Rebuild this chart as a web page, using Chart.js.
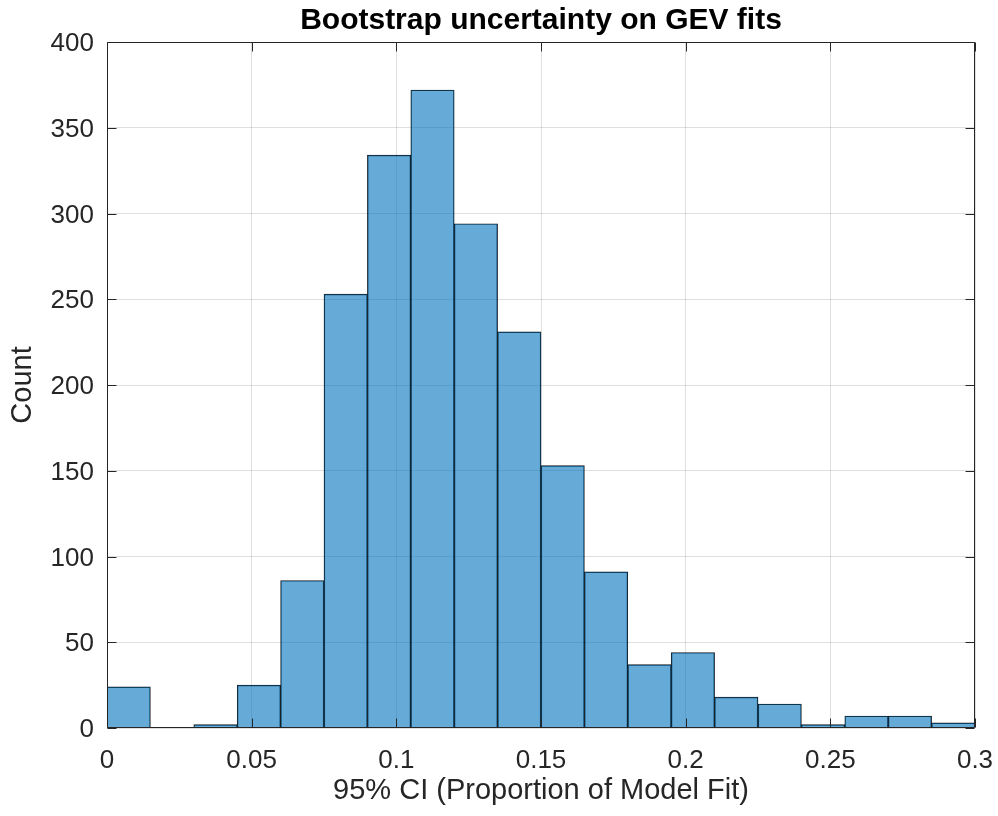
<!DOCTYPE html>
<html>
<head>
<meta charset="utf-8">
<script src="https://cdn.jsdelivr.net/npm/chart.js@4.4.1/dist/chart.umd.min.js"></script>
<style>
  html, body { margin: 0; padding: 0; background: #fff; }
  #wrap { width: 998px; height: 816px; }
</style>
</head>
<body>
<div id="wrap"><canvas id="chartHist"></canvas></div>
<script>
// histogram bins (centres, width 0.015) and counts
const binCenters = [0.0075, 0.0225, 0.0375, 0.0525, 0.0675, 0.0825, 0.0975, 0.1125, 0.1275, 0.1425,
                    0.1575, 0.1725, 0.1875, 0.2025, 0.2175, 0.2325, 0.2475, 0.2625, 0.2775, 0.2925];
const counts = [24, 0, 2, 25, 86, 253, 334, 372, 294, 231, 153, 91, 37, 44, 18, 14, 2, 7, 7, 3];

const xTicks = [0, 0.05, 0.1, 0.15, 0.2, 0.25, 0.3];
const xTickLabels = ['0', '0.05', '0.1', '0.15', '0.2', '0.25', '0.3'];
const yTicks = [0, 50, 100, 150, 200, 250, 300, 350, 400];
const yTickLabels = ['0', '50', '100', '150', '200', '250', '300', '350', '400'];
const tituloTexto = 'Bootstrap uncertainty on GEV fits';

const axisColor = '#262626';
const fontFamily = '"Liberation Sans", Arial, Helvetica, sans-serif';
Chart.defaults.font.family = fontFamily;
Chart.defaults.color = axisColor;

// matlab style box with inward ticks on all four sides, title centred over the axes
const marcoEjes = {
    id: 'marcoEjes',
    afterDatasetsDraw(chart) {
        const { ctx, chartArea: a, scales } = chart;
        const l = Math.round(a.left) + 0.5, r = Math.round(a.right) - 0.5;
        const t = Math.round(a.top) + 0.5, b = Math.round(a.bottom) - 0.5;
        const len = 9;
        ctx.save();
        ctx.strokeStyle = axisColor;
        ctx.lineWidth = 1;
        ctx.beginPath();
        ctx.rect(l, t, r - l, b - t);
        xTicks.forEach(v => {
            const px = Math.round(scales.x.getPixelForValue(v)) + 0.5;
            ctx.moveTo(px, b); ctx.lineTo(px, b - len);
            ctx.moveTo(px, t); ctx.lineTo(px, t + len);
        });
        yTicks.forEach(v => {
            const py = Math.round(scales.y.getPixelForValue(v)) + 0.5;
            ctx.moveTo(l, py); ctx.lineTo(l + len, py);
            ctx.moveTo(r, py); ctx.lineTo(r - len, py);
        });
        ctx.stroke();

        ctx.fillStyle = '#000';
        ctx.font = 'bold 30px ' + fontFamily;
        ctx.textAlign = 'center';
        ctx.textBaseline = 'alphabetic';
        ctx.fillText(tituloTexto, (a.left + a.right) / 2, a.top - 13);
        ctx.restore();
    }
};

new Chart(document.getElementById('chartHist'), {
    type: 'bar',
    data: {
        datasets: [{
            label: 'Count',
            data: binCenters.map((c, i) => ({ x: c, y: counts[i] })),
            backgroundColor: 'rgba(0, 114, 189, 0.6)',
            borderColor: 'rgba(0, 0, 0, 0.9)',
            borderWidth: 0.75,
            barPercentage: 1,
            categoryPercentage: 1
        }]
    },
    options: {
        responsive: true,
        maintainAspectRatio: false,
        animation: false,
        layout: { padding: { left: 0, right: 23, top: 42, bottom: 0 } },
        plugins: {
            legend: { display: false },
            tooltip: { enabled: false },
            title: { display: false }
        },
        scales: {
            x: {
                type: 'linear',
                min: 0,
                max: 0.3,
                offset: false,
                afterBuildTicks: s => { s.ticks = xTicks.map(v => ({ value: v })); },
                afterFit: s => { s.height = 88; s.paddingLeft = 0; s.paddingRight = 0; },
                ticks: {
                    callback: (v, i) => xTickLabels[i],
                    font: { size: 26 },
                    color: axisColor,
                    padding: 17,
                    maxRotation: 0,
                    autoSkip: false
                },
                grid: { color: 'rgba(38,38,38,0.15)', drawTicks: false, offset: false },
                border: { display: false },
                title: {
                    display: true,
                    text: '95% CI (Proportion of Model Fit)',
                    font: { size: 29 },
                    color: axisColor,
                    padding: { top: 0, bottom: 8 }
                }
            },
            y: {
                min: 0,
                max: 400,
                afterBuildTicks: s => { s.ticks = yTicks.map(v => ({ value: v })); },
                afterFit: s => { s.width = 107; s.paddingTop = 0; s.paddingBottom = 0; },
                ticks: {
                    callback: (v, i) => yTickLabels[i],
                    font: { size: 26 },
                    color: axisColor,
                    padding: 13,
                    labelOffset: 2
                },
                grid: { color: 'rgba(38,38,38,0.15)', drawTicks: false },
                border: { display: false },
                title: {
                    display: true,
                    text: 'Count',
                    font: { size: 29 },
                    color: axisColor,
                    padding: { top: 6, bottom: 0 }
                }
            }
        }
    },
    plugins: [marcoEjes]
});
</script>
</body>
</html>
